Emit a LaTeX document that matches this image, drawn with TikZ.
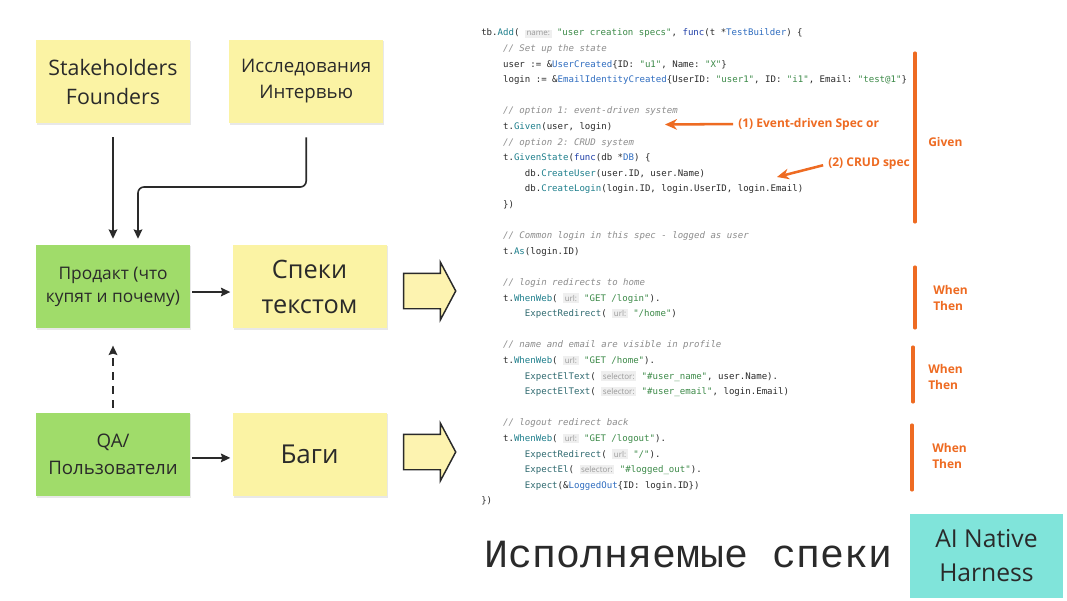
\documentclass[tikz,border=0pt]{standalone}
\usepackage{fontspec}
\setmainfont{Open Sans}
\setsansfont{Open Sans}
\setmonofont{DejaVu Sans Mono}
\newfontfamily\titlefont{Liberation Mono}
\usetikzlibrary{positioning,arrows.meta,shapes.arrows,shadows}

\definecolor{ink}{HTML}{2A2A2A}
\definecolor{stickyyellow}{HTML}{FBF3A4}
\definecolor{stickygreen}{HTML}{A0DC6A}
\definecolor{arrowyellow}{HTML}{FDF3B0}
\definecolor{harnesscyan}{HTML}{80E4DA}
\definecolor{annot}{HTML}{EE6B22}
\definecolor{codeink}{HTML}{2B2B2B}
\definecolor{cmtgray}{HTML}{8C8C8C}
\definecolor{strgreen}{HTML}{3C8A48}
\definecolor{fnteal}{HTML}{1E7F8C}
\definecolor{fxteal}{HTML}{2F6A70}
\definecolor{typeblue}{HTML}{2F6DC0}
\definecolor{kwblue}{HTML}{1F3FA8}
\definecolor{hintbg}{HTML}{EFEFEF}
\definecolor{hintgray}{HTML}{999999}

% code colouring
\newcommand\gocmt[1]{\textcolor{cmtgray}{\itshape #1}}
\newcommand\gostr[1]{\textcolor{strgreen}{#1}}
\newcommand\gofn[1]{\textcolor{fnteal}{#1}}
\newcommand\gofx[1]{\textcolor{fxteal}{#1}}
\newcommand\gotype[1]{\textcolor{typeblue}{#1}}
\newcommand\gokw[1]{\textcolor{kwblue}{#1}}
\newcommand\gohint[1]{{\setlength\fboxsep{1.2pt}\colorbox{hintbg}{\rmfamily\fontsize{6}{6.5}\selectfont\textcolor{hintgray}{#1}}}}
\newcommand\goind{\hphantom{xxxx}}

\tikzset{
  sticky/.style={rectangle, minimum width=115.5pt, minimum height=62.5pt, align=center, text=ink,
    drop shadow={shadow xshift=0.8pt, shadow yshift=-1pt, opacity=0.18}},
  yel/.style={sticky, fill=stickyyellow},
  grn/.style={sticky, fill=stickygreen},
  conn/.style={-{Stealth[length=7pt, width=6.5pt, inset=1pt]}, line width=1.2pt, color=ink},
  fat/.style={single arrow, draw=ink, fill=arrowyellow, line width=1.1pt, inner xsep=0pt, inner ysep=12.75pt,
    minimum height=39pt, minimum width=42pt, single arrow head extend=8.25pt, single arrow tip angle=124},
  ann/.style={-{Stealth[length=9pt, width=8pt]}, line width=1.9pt, color=annot},
  gwtbar/.style={line width=2.3pt, color=annot, line cap=round},
  orangetag/.style={font=\bfseries\fontsize{9}{12}\selectfont, text=annot, align=left, anchor=west, inner sep=0pt}
}

\begin{document}
\begin{tikzpicture}[x=0.75pt, y=-0.75pt]
\fill[white] (0,0) rectangle (1067,600);
\useasboundingbox (0,0) rectangle (1067,600);

% where specs come from
\node[yel, font=\fontsize{16}{21.75}\selectfont] (stake) at (113,81.5) {Stakeholders\\Founders};
\node[yel, right=29pt of stake, font=\fontsize{14}{19.5}\selectfont] (research) {Исследования\\Интервью};
\node[grn, below=91pt of stake, font=\fontsize{13}{17}\selectfont] (product) {Продакт (что\\купят и почему)};
\node[yel, right=31.5pt of product, font=\fontsize{19}{26}\selectfont] (spectext) {Спеки\\текстом};
\node[grn, below=63pt of product, font=\fontsize{14}{20}\selectfont] (qa) {QA/\\Пользователи};
\node[yel, right=31.5pt of qa, font=\fontsize{19.5}{26}\selectfont] (bugs) {Баги};

\coordinate (rbend) at (138,187);
\draw[conn, shorten <=10.5pt, shorten >=4.5pt] (stake) -- (product);
\draw[conn, rounded corners=4.5pt, shorten <=10.5pt, shorten >=4.5pt] (research.south) |- (rbend) -- (rbend |- product.north);
\draw[conn, shorten <=1.5pt, shorten >=1.5pt] ([yshift=-4pt]product.east) -- ([yshift=-4pt]spectext.west);
\draw[conn, shorten <=1.5pt, shorten >=1.5pt] ([yshift=-2.5pt]qa.east) -- ([yshift=-2.5pt]bugs.west);
\draw[conn, dashed, dash pattern=on 6pt off 4.5pt, shorten <=3.75pt, shorten >=12.75pt] (qa) -- (product);

\node[fat] (toexec1) at (425,291) {};
\node[fat] (toexec2) at (425,452) {};

% executable spec
\node[anchor=north west, inner sep=0pt, align=left, text=codeink,
  font=\ttfamily\fontsize{6.8}{11.7}\selectfont] (code) at (481,28.6) {%
tb.\gofn{Add}( \gohint{name:} \gostr{"user creation specs"}, \gokw{func}(t *\gotype{TestBuilder}) \{\\
\goind\gocmt{// Set up the state}\\
\goind user := \&\gotype{UserCreated}\{ID: \gostr{"u1"}, Name: \gostr{"X"}\}\\
\goind login := \&\gotype{EmailIdentityCreated}\{UserID: \gostr{"user1"}, ID: \gostr{"i1"}, Email: \gostr{"test@1"}\}\\
\mbox{}\\
\goind\gocmt{// option 1: event-driven system}\\
\goind t.\gofn{Given}(user, login)\\
\goind\gocmt{// option 2: CRUD system}\\
\goind t.\gofn{GivenState}(\gokw{func}(db *\gotype{DB}) \{\\
\goind\goind db.\gofn{CreateUser}(user.ID, user.Name)\\
\goind\goind db.\gofn{CreateLogin}(login.ID, login.UserID, login.Email)\\
\goind\})\\
\mbox{}\\
\goind\gocmt{// Common login in this spec - logged as user}\\
\goind t.\gofn{As}(login.ID)\\
\mbox{}\\
\goind\gocmt{// login redirects to home}\\
\goind t.\gofn{WhenWeb}( \gohint{url:} \gostr{"GET /login"}).\\
\goind\goind\gofx{ExpectRedirect}( \gohint{url:} \gostr{"/home"})\\
\mbox{}\\
\goind\gocmt{// name and email are visible in profile}\\
\goind t.\gofn{WhenWeb}( \gohint{url:} \gostr{"GET /home"}).\\
\goind\goind\gofx{ExpectElText}( \gohint{selector:} \gostr{"\#user\_name"}, user.Name).\\
\goind\goind\gofx{ExpectElText}( \gohint{selector:} \gostr{"\#user\_email"}, login.Email)\\
\mbox{}\\
\goind\gocmt{// logout redirect back}\\
\goind t.\gofn{WhenWeb}( \gohint{url:} \gostr{"GET /logout"}).\\
\goind\goind\gofx{ExpectRedirect}( \gohint{url:} \gostr{"/"}).\\
\goind\goind\gofx{ExpectEl}( \gohint{selector:} \gostr{"\#logged\_out"}).\\
\goind\goind\gofx{Expect}(\&\gotype{LoggedOut}\{ID: login.ID\})\\
\})};

% annotations
\node[orangetag] (opt1) at (738,124) {(1) Event-driven Spec or};
\coordinate (tip1) at (665,124.5);
\draw[ann, shorten <=3.75pt] (opt1.west) -- (tip1);
\node[orangetag] (opt2) at (828,164) {(2) CRUD spec};
\coordinate (tip2) at (777,177);
\draw[ann, shorten <=3.75pt] (opt2.west) -- (tip2);

\draw[gwtbar] (915,53) -- (915,222);
\draw[gwtbar] (915,267) -- (915,328);
\draw[gwtbar] (913,347) -- (913,402);
\draw[gwtbar] (912,425) -- (912,490);
\node[orangetag] (given) at (928,142) {Given};
\node[orangetag] (wt1) at (933,298) {When\\Then};
\node[orangetag] (wt2) at (928,377) {When\\Then};
\node[orangetag] (wt3) at (932,456) {When\\Then};

\node[anchor=base west, inner sep=0pt, text=ink, font=\titlefont\fontsize{30}{36}\selectfont] (title) at (484,567) {Исполняемые спеки};
\node[fill=harnesscyan, minimum width=114.75pt, minimum height=63pt, align=center, text=ink,
  font=\fontsize{18.5}{25.5}\selectfont] (harness) at (986.5,556) {AI Native\\Harness};
\end{tikzpicture}
\end{document}
